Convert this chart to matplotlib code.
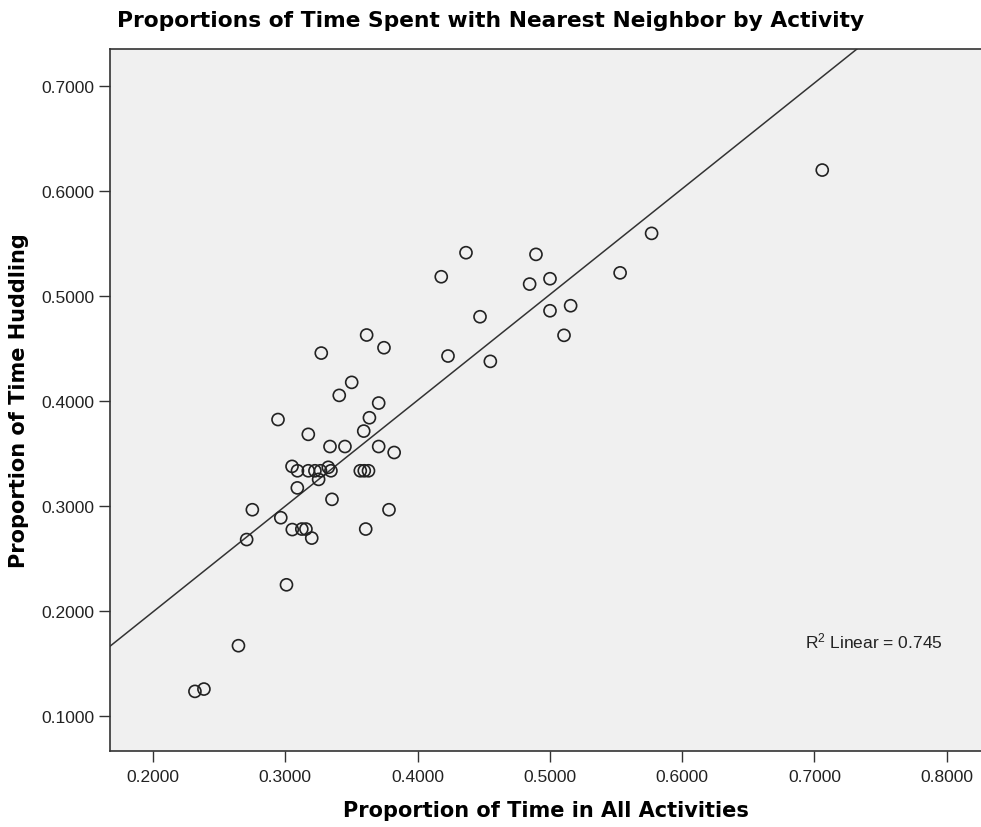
import numpy as np
import matplotlib
matplotlib.use("Agg")
import matplotlib.pyplot as plt

plt.rcParams['font.family'] = ['Liberation Sans', 'DejaVu Sans']
plt.rcParams['mathtext.fontset'] = 'custom'
plt.rcParams['mathtext.rm'] = 'Liberation Sans'
plt.rcParams['mathtext.it'] = 'Liberation Sans'

# Proportion of time in all activities (x) and huddling (y)
all_activities = [
    0.2317, 0.2385, 0.2646, 0.2708, 0.2751, 0.2966, 0.2945, 0.3009, 0.3053, 0.3091,
    0.3125, 0.3156, 0.3200, 0.3174, 0.3272, 0.3252, 0.3051, 0.3092, 0.3174, 0.3224,
    0.3266, 0.3325, 0.3345, 0.3567, 0.3597, 0.3629, 0.3353, 0.3338, 0.3451, 0.3408,
    0.3502, 0.3615, 0.3746, 0.3593, 0.3636, 0.3706, 0.3706, 0.3823, 0.3784, 0.3608,
    0.4366, 0.4179, 0.4895, 0.4847, 0.5001, 0.5531, 0.4472, 0.5001, 0.5157, 0.5107,
    0.4230, 0.4550, 0.5769, 0.7059,
]
huddling = [
    0.1232, 0.1254, 0.1667, 0.2678, 0.2962, 0.2886, 0.3821, 0.2247, 0.2773, 0.3170,
    0.2778, 0.2778, 0.2692, 0.3680, 0.4454, 0.3251, 0.3375, 0.3333, 0.3333, 0.3333,
    0.3333, 0.3366, 0.3333, 0.3333, 0.3333, 0.3333, 0.3061, 0.3564, 0.3564, 0.4051,
    0.4175, 0.4626, 0.4505, 0.3711, 0.3838, 0.3978, 0.3564, 0.3507, 0.2962, 0.2778,
    0.5410, 0.5181, 0.5394, 0.5111, 0.5162, 0.5218, 0.4800, 0.4857, 0.4905, 0.4623,
    0.4426, 0.4375, 0.5594, 0.6197,
]
x_ticks = [0.2, 0.3, 0.4, 0.5, 0.6, 0.7, 0.8]
y_ticks = [0.1, 0.2, 0.3, 0.4, 0.5, 0.6, 0.7]
r2_text = "R$^2$ Linear = 0.745"

x = np.array(all_activities)
y = np.array(huddling)

fig = plt.figure(figsize=(9.81, 8.28), dpi=100)
ax = fig.add_axes([110/981, 1 - 751.7/828, 1 - 110/981, (751.7 - 50)/828])
ax.set_facecolor('#f0f0f0')

xlim = (0.1675, 0.8259)
ylim = (0.0667, 0.735)

slope, intercept = np.polyfit(x, y, 1)
lx = np.array(xlim)
ax.plot(lx, slope * lx + intercept, color='#333333', lw=1.1, zorder=2)

ax.scatter(x, y, s=75, facecolors='none', edgecolors='#222222', linewidths=1.2, zorder=3)

ax.set_xlim(*xlim)
ax.set_ylim(*ylim)
ax.set_xticks(x_ticks)
ax.set_yticks(y_ticks)
ax.set_xticklabels([f"{v:.4f}" for v in x_ticks])
ax.set_yticklabels([f"{v:.4f}" for v in y_ticks])
ax.tick_params(axis='both', direction='out', length=8, width=1.0, color='#333333',
               labelsize=12.5, labelcolor='#222222')
ax.tick_params(axis='y', pad=3)
ax.tick_params(axis='x', pad=5)

for side in ['left', 'bottom', 'top']:
    ax.spines[side].set_color('#333333')
    ax.spines[side].set_linewidth(1.2)
ax.spines['right'].set_visible(False)

bold_family = ['DejaVu Sans']
ax.set_xlabel("Proportion of Time in All Activities", fontsize=15, fontweight='bold',
              family=bold_family, labelpad=12)
ax.set_ylabel("Proportion of Time Huddling", fontsize=15, fontweight='bold',
              family=bold_family, labelpad=9)
fig.text(0.5, 1 - 21/828, "Proportions of Time Spent with Nearest Neighbor by Activity",
         ha='center', va='center', fontsize=15.7, fontweight='bold', family=bold_family)

ax.text(0.7971, 0.1714, r2_text, fontsize=12.5, color='#222222', ha='right', va='center',
        transform=ax.transData)

fig.savefig("out.png", dpi=100)
